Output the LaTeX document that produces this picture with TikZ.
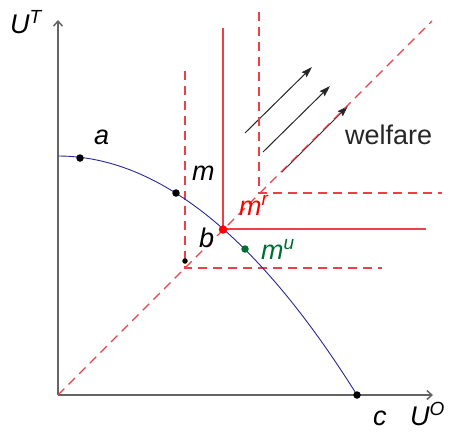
\documentclass[tikz,border=0pt]{standalone}
\usepackage{fontspec}
\setmainfont{Liberation Sans}
\usetikzlibrary{arrows.meta}
\definecolor{lred}{RGB}{236,64,72}
\definecolor{axisgray}{RGB}{100,100,100}
\definecolor{curveblue}{RGB}{40,40,150}
\definecolor{dgreen}{RGB}{0,110,50}
\newcommand\lsup[2]{#1\raisebox{10pt}{\fontsize{19}{19}\selectfont\itshape #2}}
\begin{document}
\begin{tikzpicture}[x=1pt,y=-1pt,
  lbl/.style={font=\fontsize{27}{30}\selectfont\itshape, inner sep=0pt, anchor=base west},
  axisline/.style={draw=axisgray, line width=1.5pt, -{Straight Barb[length=5pt,width=9pt]}},
  dashred/.style={draw=lred, line width=1.2pt, dash pattern=on 9pt off 6pt},
  solidred/.style={draw=lred, line width=1.2pt},
  warrow/.style={draw=black!85, line width=1pt, -{Stealth[length=11pt,width=7pt,inset=1.5pt]}},
  dot/.style={circle, fill=black, inner sep=0pt, minimum size=7.5pt}]
\useasboundingbox (0,0) rectangle (452,432);
\coordinate (O) at (58,395);
\coordinate (Ytop) at (58,20);
\coordinate (Xend) at (433,395);
\coordinate (Dend) at (432,21);
\coordinate (C1) at (185,268);
\coordinate (C1top) at (185,71);
\coordinate (C1right) at (382,268);
\coordinate (C2) at (223,229);
\coordinate (C2top) at (223,28);
\coordinate (C2right) at (426,229);
\coordinate (C3) at (259,193);
\coordinate (C3top) at (259,12);
\coordinate (C3right) at (442,193);
\coordinate (A1s) at (245,133);
\coordinate (A1e) at (312,67);
\coordinate (A2s) at (263,152);
\coordinate (A2e) at (330,86);
\coordinate (A3s) at (282,172);
\coordinate (A3e) at (348,106);
\coordinate (Ps) at (58,156);
\coordinate (Pc1) at (157.67,156);
\coordinate (Pc2) at (257.33,235.67);
\coordinate (Pe) at (357,395);
% axes
\draw[axisline] (O) -- (Ytop);
\draw[axisline] (O) -- (Xend);
% welfare arrows
\draw[warrow] (A1s) -- (A1e);
\draw[warrow] (A2s) -- (A2e);
\draw[warrow] (A3s) -- (A3e);
% diagonal
\draw[dashred] (O) -- (Dend);
% dashed corners
\draw[dashred] (C1top) -- (C1) -- (C1right);
\draw[dashred] (C3top) -- (C3) -- (C3right);
% solid red corner
\draw[solidred] (C2top) -- (C2) -- (C2right);
% frontier
\draw[curveblue, line width=0.9pt] (Ps) .. controls (Pc1) and (Pc2) .. (Pe);
% dots
\node[dot] (pa) at (80,158) {};
\node[dot] (pm) at (176,193) {};
\node[dot, minimum size=5.5pt] (pq) at (185,261) {};
\node[dot, fill=red, minimum size=8.5pt] (pb) at (223,229.5) {};
\node[dot, fill=dgreen] (pmu) at (245,249) {};
\node[dot] (pc) at (357,395) {};
% labels
\node[lbl] (lUT) at (10,33) {\lsup{U}{T}};
\node[lbl] (la) at (94,144) {a};
\node[lbl] (lm) at (192,180) {m};
\node[lbl] (lb) at (199,247) {b};
\node[lbl, text=red] (lmr) at (239,215) {\lsup{m}{r}};
\node[lbl, text=dgreen] (lmu) at (261,259) {\lsup{m}{u}};
\node[lbl] (lc) at (373,425) {c};
\node[lbl] (lUO) at (410,425) {\lsup{U}{O}};
\node[lbl, font=\fontsize{27}{30}\selectfont, text=black!85] (lw) at (345,144) {welfare};
\end{tikzpicture}
\end{document}
